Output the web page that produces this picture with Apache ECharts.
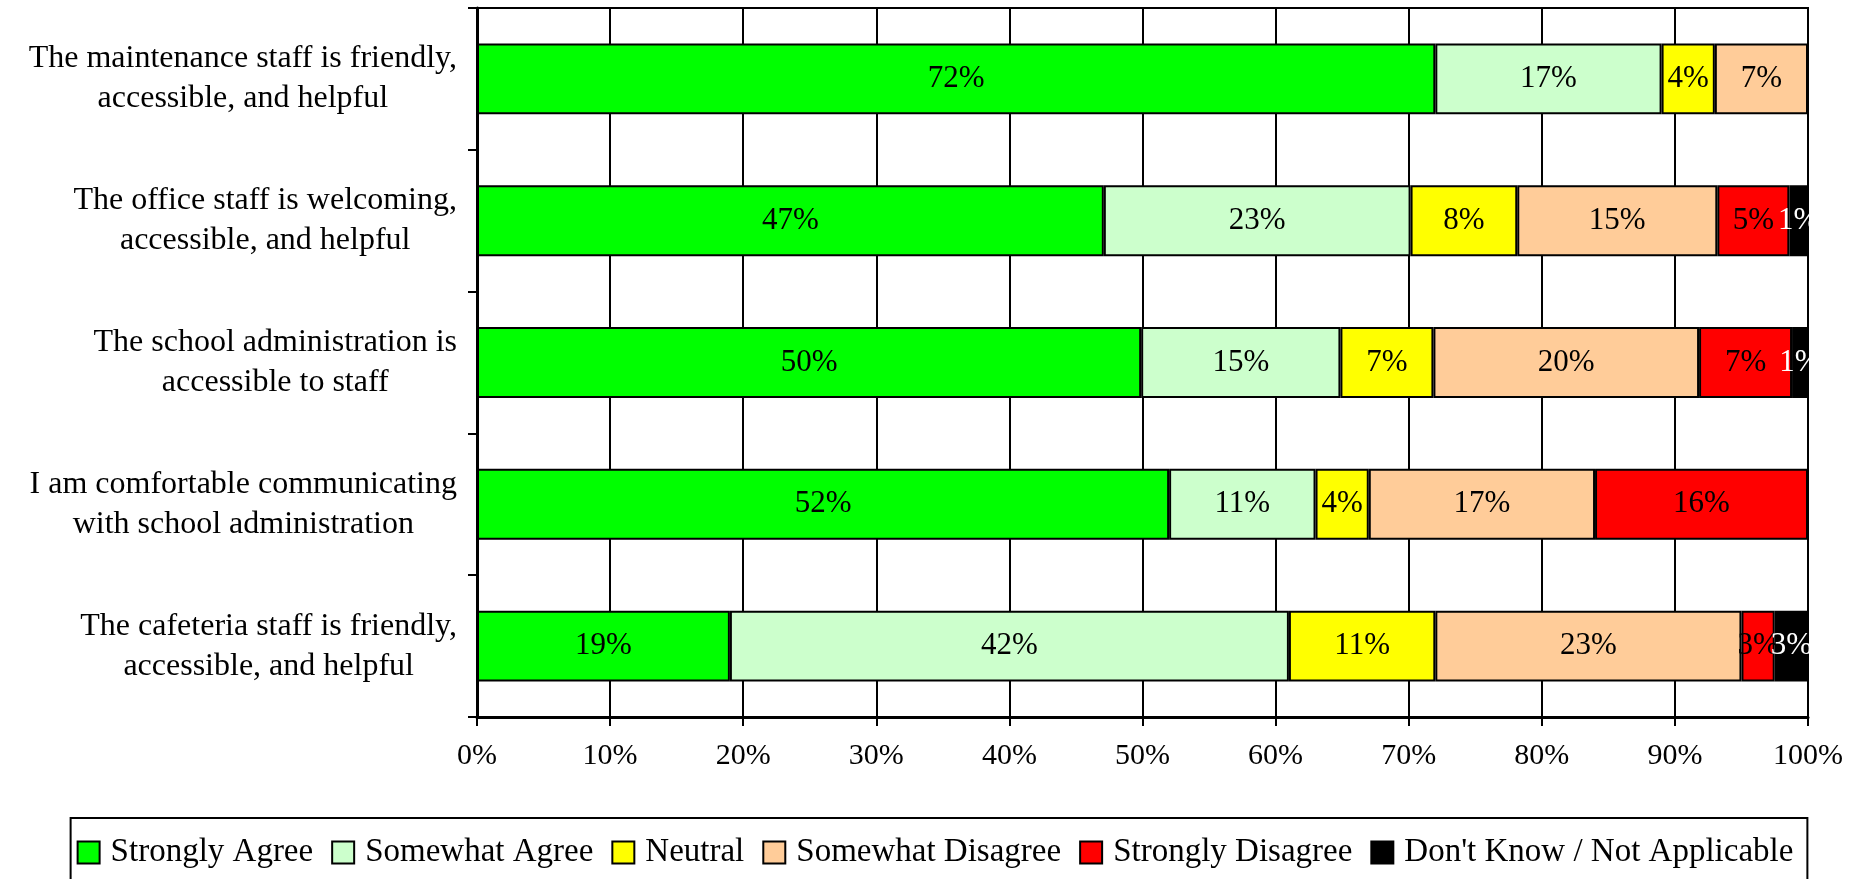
<!DOCTYPE html>
<html>
<head>
<meta charset="utf-8">
<script src="https://cdn.jsdelivr.net/npm/echarts@6/dist/echarts.min.js"></script>
<style>
  html, body { margin: 0; padding: 0; background: #fff; }
  #chart { width: 1870px; height: 879px; }
</style>
</head>
<body>
<div id="chart"></div>
<script>
// survey items, top to bottom
const questions = [
  'The maintenance staff is friendly,\naccessible, and helpful',
  'The office staff is welcoming,\naccessible, and helpful',
  'The school administration is\naccessible to staff',
  'I am comfortable communicating\nwith school administration',
  'The cafeteria staff is friendly,\naccessible, and helpful'
];

const responses = [
  'Strongly Agree',
  'Somewhat Agree',
  'Neutral',
  'Somewhat Disagree',
  'Strongly Disagree',
  "Don't Know / Not Applicable"
];

// percent per question, same order as questions
const stronglyAgree    = [72, 47, 50, 52, 19];
const somewhatAgree    = [17, 23, 15, 11, 42];
const neutral          = [4, 8, 7, 4, 11];
const somewhatDisagree = [7, 15, 20, 17, 23];
const stronglyDisagree = [0, 5.4, 7, 16, 2.5];
const dontKnow         = [0, 1.4, 1.2, 0, 2.5];

const colors = ['#00ff00', '#ccffcc', '#ffff00', '#ffcc99', '#ff0000', '#000000'];

const FONT = 'Liberation Serif';
const allSeries = [stronglyAgree, somewhatAgree, neutral, somewhatDisagree, stronglyDisagree, dontKnow];

// 100% stacked: scale each row to its total
const totals = questions.map((q, i) => allSeries.reduce((s, arr) => s + arr[i], 0));

const chart = echarts.init(document.getElementById('chart'));

const series = allSeries.map((arr, k) => ({
  name: responses[k],
  type: 'bar',
  stack: 'total',
  barWidth: '50%',
  itemStyle: { color: colors[k], borderColor: '#000', borderWidth: 2 },
  label: {
    show: true,
    position: 'inside',
    fontFamily: FONT,
    fontSize: 31,
    color: k === 5 ? '#fff' : '#000',
    formatter: (p) => (arr[p.dataIndex] > 0 ? Math.round(arr[p.dataIndex]) + '%' : '')
  },
  data: arr.map((v, i) => (v > 0 ? (v / totals[i]) * 100 : null))
}));

chart.setOption({
  animation: false,
  grid: {
    left: 477, right: 62, top: 8, bottom: 162,
    show: true, borderColor: '#000', borderWidth: 2
  },
  xAxis: {
    type: 'value',
    min: 0, max: 100, interval: 10,
    axisLine: { show: true, lineStyle: { color: '#000', width: 3 } },
    axisTick: { show: true, length: 9, lineStyle: { color: '#000', width: 2 } },
    splitLine: { show: true, lineStyle: { color: '#000', width: 2 } },
    axisLabel: {
      formatter: '{value}%',
      fontFamily: FONT, fontSize: 30, color: '#000', margin: 24
    }
  },
  yAxis: {
    type: 'category',
    inverse: true,
    data: questions,
    axisLine: { show: true, lineStyle: { color: '#000', width: 3 } },
    axisTick: { show: true, length: 9, lineStyle: { color: '#000', width: 2 } },
    axisLabel: {
      margin: 20,
      align: 'right',
      formatter: (v) => v.split('\n').map((l) => '{c|' + l + '}').join('\n'),
      rich: {
        c: { fontFamily: FONT, fontSize: 32, color: '#000', align: 'center', lineHeight: 40 }
      }
    }
  },
  legend: {
    data: responses,
    left: 'center',
    top: 818,
    orient: 'horizontal',
    padding: [18, 14, 30, 6],
    borderColor: '#000',
    borderWidth: 2,
    itemWidth: 22,
    itemHeight: 22,
    itemGap: 18,
    icon: 'rect',
    itemStyle: { borderColor: '#000', borderWidth: 2 },
    textStyle: { fontFamily: FONT, fontSize: 33, color: '#000', padding: [0, 0, 0, 6] }
  },
  series
});
</script>
</body>
</html>
